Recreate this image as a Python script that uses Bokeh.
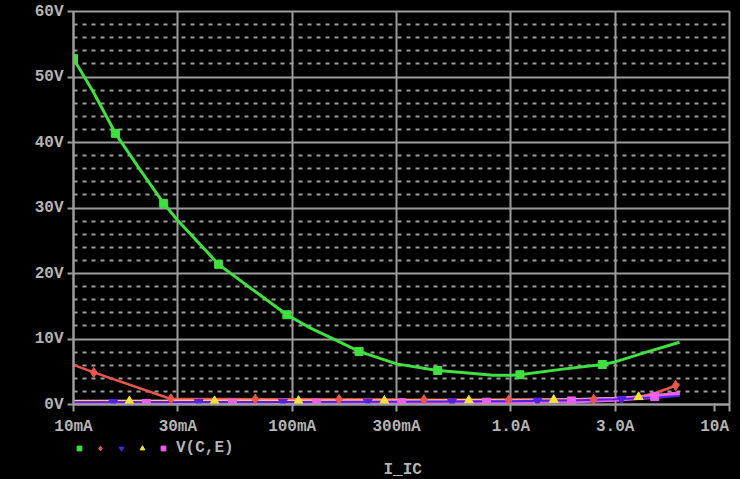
import numpy as np
from bokeh.plotting import figure
from bokeh.layouts import column
from bokeh.models import FixedTicker, Legend, LegendItem, Label, Range1d
from bokeh.embed import file_html
from bokeh.resources import INLINE

# ---- axis ticks ----
x_grid_ticks = [0.01, 0.03, 0.1, 0.3, 1.0, 3.0, 10.0]
x_ticks = [0.01, 0.03, 0.1, 0.3, 1.0, 3.0, 8.55, 10.0]
x_tick_labels = ["10mA", "30mA", "100mA", "300mA", "1.0A", "3.0A", "10A", ""]
y_ticks = [0, 10, 20, 30, 40, 50, 60]
y_tick_labels = ["0V", "10V", "20V", "30V", "40V", "50V", "60V"]
y_minor_ticks = [2, 4, 6, 8, 12, 14, 16, 18, 22, 24, 26, 28, 32, 34, 36, 38,
                 42, 44, 46, 48, 52, 54, 56, 58]
x_title = "I_IC"
legend_label = "V(C,E)"

# ---- series 1 (green) ----
g_i = [0.01, 0.01238, 0.01555, 0.02, 0.02585, 0.03, 0.0461, 0.07, 0.0946, 0.1208,
       0.15, 0.2023, 0.30, 0.463, 0.60, 0.827, 1.0, 1.10, 1.73, 2.62, 3.0, 4.17, 5.91]
g_v = [52.8, 47.6, 41.4, 36.0, 30.7, 28.1, 21.4, 16.9, 13.7, 11.7,
       10.2, 8.1, 6.2, 5.2, 4.9, 4.45, 4.45, 4.55, 5.4, 6.1, 6.5, 8.0, 9.5]
g_mi = [0.01, 0.01555, 0.02585, 0.0461, 0.0946, 0.2023, 0.463, 1.10, 2.62]
g_mv = [52.8, 41.4, 30.7, 21.4, 13.7, 8.1, 5.2, 4.55, 6.1]

# ---- series 2 (red) ----
r_i = [0.01, 0.01238, 0.0277, 0.05, 0.1, 0.3, 1.0, 2.0, 3.0, 3.6, 4.0, 4.6, 5.2, 5.67, 5.91]
r_v = [6.05, 4.9, 0.87, 0.83, 0.8, 0.75, 0.72, 0.78, 0.9, 1.05, 1.25, 1.8, 2.4, 2.9, 3.1]
r_mi = [0.01238, 0.0279, 0.0678, 0.1639, 0.4006, 0.979, 2.393, 5.67]
r_mv = [4.9, 0.87, 0.82, 0.78, 0.74, 0.72, 0.8, 2.9]

# ---- series 3 (blue) ----
b_i = [0.01, 0.03, 0.1, 0.3, 1.0, 2.0, 3.0, 4.0, 5.0, 5.91]
b_v = [0.35, 0.38, 0.4, 0.42, 0.5, 0.65, 0.8, 1.0, 1.15, 1.3]
b_mi = [0.01518, 0.03735, 0.0907, 0.2217, 0.538, 1.324, 3.21]
b_mv = [0.36, 0.38, 0.4, 0.41, 0.46, 0.6, 0.85]

# ---- series 4 (yellow) ----
y_i = [0.01, 0.1, 0.5, 1.0, 2.0, 3.0, 4.0, 5.0, 5.91]
y_v = [0.5, 0.55, 0.6, 0.65, 0.75, 0.95, 1.2, 1.5, 1.75]
y_mi = [0.01802, 0.04418, 0.1069, 0.264, 0.643, 1.571, 3.84]
y_mv = [0.5, 0.52, 0.55, 0.58, 0.62, 0.72, 1.15]

# ---- series 5 (magenta) V(C,E) ----
m_i = [0.01, 0.1, 0.5, 1.0, 2.0, 3.0, 4.0, 5.0, 5.91]
m_v = [0.15, 0.2, 0.3, 0.4, 0.55, 0.75, 1.05, 1.35, 1.7]
m_mi = [0.02154, 0.05339, 0.1296, 0.317, 0.774, 1.893, 4.55]
m_mv = [0.17, 0.19, 0.21, 0.27, 0.36, 0.55, 1.2]

GRID = "#9c9c9c"
TXT = "#b4b4b4"
FONT = "Liberation Mono"
FSTYLE = "bold"

GREEN = "#3fe03f"
RED = "#ea564c"
BLUE = "#5222e0"
YEL = "#f2e23a"
PEACH = "#ffc47c"
MAG = "#ea62ea"

MARKERS = [("square", 8, GREEN, g_mi, g_mv),
           ("diamond", 10, RED, r_mi, r_mv),
           ("inverted_triangle", 9, BLUE, b_mi, b_mv),
           ("triangle", 9, YEL, y_mi, y_mv),
           ("square", 8, MAG, m_mi, m_mv)]

xr = Range1d(0.01, 10)

p = figure(width=740, height=439, x_axis_type="log",
           x_range=xr, y_range=Range1d(0, 60),
           output_backend="svg", toolbar_location=None,
           min_border_left=73, min_border_right=11, min_border_top=11, min_border_bottom=35,
           background_fill_color="black", border_fill_color="black",
           outline_line_color=GRID, outline_line_width=2)

p.xaxis.ticker = FixedTicker(ticks=x_ticks, minor_ticks=[])
p.yaxis.ticker = FixedTicker(ticks=y_ticks, minor_ticks=y_minor_ticks)
p.xaxis.major_label_overrides = {t: l for t, l in zip(x_ticks, x_tick_labels)}
p.yaxis.major_label_overrides = {t: l for t, l in zip(y_ticks, y_tick_labels)}

for ax in (p.xaxis[0], p.yaxis[0]):
    ax.axis_line_color = GRID
    ax.axis_line_width = 2
    ax.major_tick_line_color = GRID
    ax.major_tick_line_width = 2
    ax.major_tick_in = 0
    ax.minor_tick_in = 0
    ax.minor_tick_out = 0
    ax.major_label_text_font = FONT
    ax.major_label_text_font_style = FSTYLE
    ax.major_label_text_font_size = "16px"
    ax.major_label_text_color = TXT
p.xaxis.major_tick_out = 7
p.xaxis.major_label_standoff = 6
p.yaxis.major_tick_out = 6
p.yaxis.major_label_standoff = 4

p.xgrid.ticker = FixedTicker(ticks=x_grid_ticks, minor_ticks=[])
p.xgrid.grid_line_color = GRID
p.xgrid.grid_line_width = 2
p.ygrid.grid_line_color = GRID
p.ygrid.grid_line_width = 2
p.ygrid.minor_grid_line_color = GRID
p.ygrid.minor_grid_line_width = 2
p.ygrid.minor_grid_line_dash = "4 5"

p.line(g_i, g_v, line_color=GREEN, line_width=3)
p.line(r_i, r_v, line_color=RED, line_width=2.5)
p.line(y_i, y_v, line_color=PEACH, line_width=3)
p.line(m_i, m_v, line_color=MAG, line_width=4.5)
p.line(b_i, b_v, line_color=BLUE, line_width=2)

for mk, sz, col, xi, yv in MARKERS:
    p.scatter(xi, yv, marker=mk, size=sz, color=col)

# ---- strip below: legend + x title (its y range lies far below every data value,
#      so the marker renderers there only serve as legend glyphs) ----
p2 = figure(width=740, height=40, x_axis_type="log", x_range=xr, y_range=Range1d(-140, -100),
            output_backend="svg", toolbar_location=None,
            x_axis_location=None, y_axis_location=None,
            min_border_left=73, min_border_right=11, min_border_top=0, min_border_bottom=0,
            background_fill_color="black", border_fill_color="black",
            outline_line_color=None)
p2.grid.visible = False

leg_r = [p2.scatter(xi, yv, marker=mk, size=sz, color=col)
         for mk, sz, col, xi, yv in MARKERS]

legend = Legend(items=[LegendItem(label="", renderers=[leg_r[0]]),
                       LegendItem(label="", renderers=[leg_r[1]]),
                       LegendItem(label="", renderers=[leg_r[2]]),
                       LegendItem(label="", renderers=[leg_r[3]]),
                       LegendItem(label=legend_label, renderers=[leg_r[4]])],
                orientation="horizontal", location="top_left",
                glyph_width=12, glyph_height=16, label_width=0, label_height=16,
                label_standoff=7, spacing=2, padding=0, margin=0,
                background_fill_alpha=0, border_line_alpha=0,
                label_text_font=FONT, label_text_font_style=FSTYLE,
                label_text_font_size="16px",
                label_text_color=TXT, label_text_baseline="middle")
p2.add_layout(legend, "center")

p2.add_layout(Label(x=0.32, y=-130, text=x_title, text_align="center", text_baseline="middle",
                    text_font=FONT, text_font_style=FSTYLE, text_font_size="16px",
                    text_color=TXT))

layout = column(p, p2, spacing=0)
html = file_html(layout, INLINE)
html = html.replace("</head>", "<style>html,body{background:#000000;}</style></head>", 1)
open("out.html", "w").write(html)
